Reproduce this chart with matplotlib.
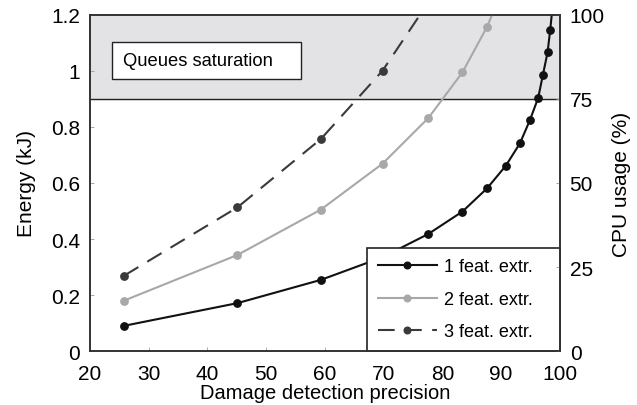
import matplotlib
matplotlib.use("Agg")
import matplotlib.pyplot as plt
from matplotlib.patches import Rectangle

plt.rcParams['font.family'] = ['Liberation Sans', 'DejaVu Sans']

# detection precision at each operating point (shared by all series)
precision = [25.8, 45.1, 59.3, 69.8, 77.6, 83.4, 87.6, 90.8, 93.2, 94.9, 96.3, 97.1, 97.9, 98.35, 98.75]
# energy per configuration (kJ)
energy_1 = [0.090, 0.171, 0.254, 0.335, 0.418, 0.498, 0.581, 0.662, 0.742, 0.825, 0.904, 0.986, 1.067, 1.148, 1.23]
energy_2 = [0.180, 0.343, 0.505, 0.669, 0.832, 0.995, 1.158, 1.32]
energy_3 = [0.269, 0.513, 0.757, 1.001, 1.245]

labels = ['1 feat. extr.', '2 feat. extr.', '3 feat. extr.']
saturation = 0.9

fig, ax = plt.subplots(figsize=(6.37, 4.06), dpi=100)
fig.subplots_adjust(left=0.1413, right=0.879, bottom=0.133, top=0.9606)

# saturated region of the queues
ax.axhspan(saturation, 1.2, color='#e3e3e6', zorder=0)
ax.axhline(saturation, color='#222222', lw=1.0, zorder=1)
ax.add_patch(Rectangle((23.8, 0.970), 32.1, 0.1325, fc='white', ec='#222222', lw=1.0, zorder=2))
ax.text(25.6, 1.037, 'Queues saturation', fontsize=13.2, va='center', ha='left', zorder=3)

ax.plot(precision, energy_1, '-o', color='#111111', ms=5.3, lw=1.5, label=labels[0], zorder=3)
ax.plot(precision[:len(energy_2)], energy_2, '-o', color='#a8a8a8', ms=5.3, lw=1.5, label=labels[1], zorder=3)
ax.plot(precision[:len(energy_3)], energy_3, '--o', color='#3a3a3a', ms=5.3, lw=1.5,
        dashes=(8, 5), label=labels[2], zorder=3)

ax.set_xlim(20, 100)
ax.set_ylim(0, 1.2)
ax.set_xticks(range(20, 101, 10))
ax.set_yticks([0, 0.2, 0.4, 0.6, 0.8, 1, 1.2])
ax.set_yticklabels(['0', '0.2', '0.4', '0.6', '0.8', '1', '1.2'])
ax.set_xlabel('Damage detection precision', fontsize=14.5, labelpad=0)
ax.set_ylabel('Energy (kJ)', fontsize=15, labelpad=11)
ax.tick_params(axis='y', direction='in', length=3, width=0.6, color='#999999', labelsize=15, pad=7)
ax.tick_params(axis='x', direction='in', length=3, width=0.6, color='#999999', labelsize=15, pad=9)

ax2 = ax.twinx()
ax2.set_ylim(0, 100)
ax2.set_yticks([0, 25, 50, 75, 100])
ax2.set_ylabel('CPU usage (%)', fontsize=15, labelpad=5)
ax2.tick_params(direction='in', length=3, width=0.6, color='#999999', labelsize=15, pad=7)

for a in (ax, ax2):
    for s in a.spines.values():
        s.set_color('#333333')
        s.set_linewidth(1.2)

leg = ax.legend(loc='lower left', bbox_to_anchor=(0.589, 0, 0.411, 0.3), mode='expand',
                fontsize=13, frameon=True, fancybox=False,
                borderaxespad=0, handlelength=3.3, handletextpad=0.38,
                labelspacing=0.85, borderpad=0.6, markerscale=0.9)
leg.get_frame().set_edgecolor('#222222')
leg.get_frame().set_linewidth(1.2)
leg.get_frame().set_alpha(1)
leg.set_zorder(5)

fig.savefig('out.png', dpi=100)
